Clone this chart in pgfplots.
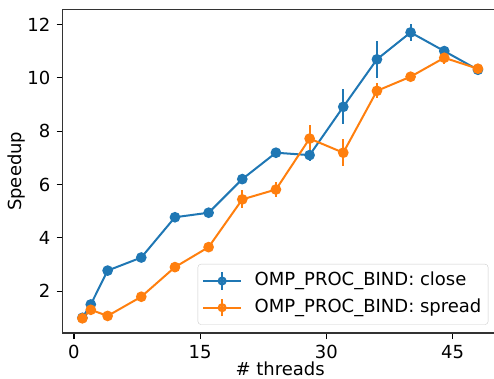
\documentclass[border=0pt]{standalone}
\usepackage{fontspec}
\setmainfont{DejaVu Sans}
\usepackage{pgfplots}
\pgfplotsset{compat=1.18}
\definecolor{tabblue}{HTML}{1F77B4}
\definecolor{taborange}{HTML}{FF7F0E}
\begin{document}
\fontsize{18bp}{21bp}\selectfont
\begin{tikzpicture}
\useasboundingbox (0,0) rectangle (494bp,379bp);
\begin{axis}[
  at={(62.6bp,46bp)}, anchor=south west,
  width=435.1bp, height=323.5bp, scale only axis,
  xmin=-1.35, xmax=50.35, ymin=0.43, ymax=12.56,
  xtick={0,15,30,45}, ytick={2,4,6,8,10,12},
  xtick pos=bottom, ytick pos=left,
  tick align=outside, major tick length=6bp,
  every tick/.style={line width=1.2bp, black},
  axis line style={line width=1.2bp, black!80},
  /pgf/number format/assume math mode=true,
  ticklabel style={font=\fontsize{18bp}{21bp}\selectfont},
  label style={font=\fontsize{18bp}{21bp}\selectfont},
  xlabel={\# threads}, ylabel={Speedup},
  xlabel style={at={(axis description cs:0.5,-0.1329)}, anchor=base},
  ylabel style={at={(axis description cs:-0.1065,0.5)}, anchor=center},
  legend cell align=left,
  legend style={at={(axis description cs:0.9784,0.2133)}, anchor=north east,
    draw=black!20, rounded corners=3bp, fill=white, fill opacity=0.8, text opacity=1,
    font=\fontsize{18bp}{21bp}\selectfont, inner xsep=4.2bp, inner ysep=5.3bp,
    row sep=3.7bp, nodes={inner sep=2.5bp, text height=13.5bp, text depth=4.5bp},
    /tikz/every odd column/.append style={column sep=10bp}},
  legend image code/.code={
    \draw[#1, mark=none] (0bp,0bp) -- (38bp,0bp);
    \draw[#1, mark=none] (19bp,-8.7bp) -- (19bp,8.7bp);
    \draw[#1, mark size=3.5bp] plot coordinates {(19bp,0bp)};
  },
]
\addplot[color=tabblue, line width=2bp, mark=*, mark size=4.3bp,
  mark options={solid},
  error bars/.cd, y dir=both, y explicit,
  error bar style={line width=2bp, tabblue}, error mark=none]
  table[x=x, y=y, y error=e] {
x y e
1 1.00 0.02
2 1.50 0.05
4 2.77 0.05
8 3.26 0.05
12 4.77 0.05
16 4.94 0.05
20 6.20 0.08
24 7.19 0.05
28 7.10 0.22
32 8.91 0.66
36 10.69 0.69
40 11.70 0.31
44 11.00 0.05
48 10.30 0.05
};
\addlegendentry{OMP\_PROC\_BIND: close}
\addplot[color=taborange, line width=2bp, mark=*, mark size=4.3bp,
  mark options={solid},
  error bars/.cd, y dir=both, y explicit,
  error bar style={line width=2bp, taborange}, error mark=none]
  table[x=x, y=y, y error=e] {
x y e
1 0.98 0.02
2 1.30 0.08
4 1.07 0.03
8 1.79 0.05
12 2.90 0.05
16 3.65 0.05
20 5.44 0.34
24 5.81 0.27
28 7.72 0.50
32 7.19 0.50
36 9.51 0.28
40 10.04 0.05
44 10.75 0.22
48 10.34 0.05
};
\addlegendentry{OMP\_PROC\_BIND: spread}
\end{axis}
\end{tikzpicture}
\end{document}
